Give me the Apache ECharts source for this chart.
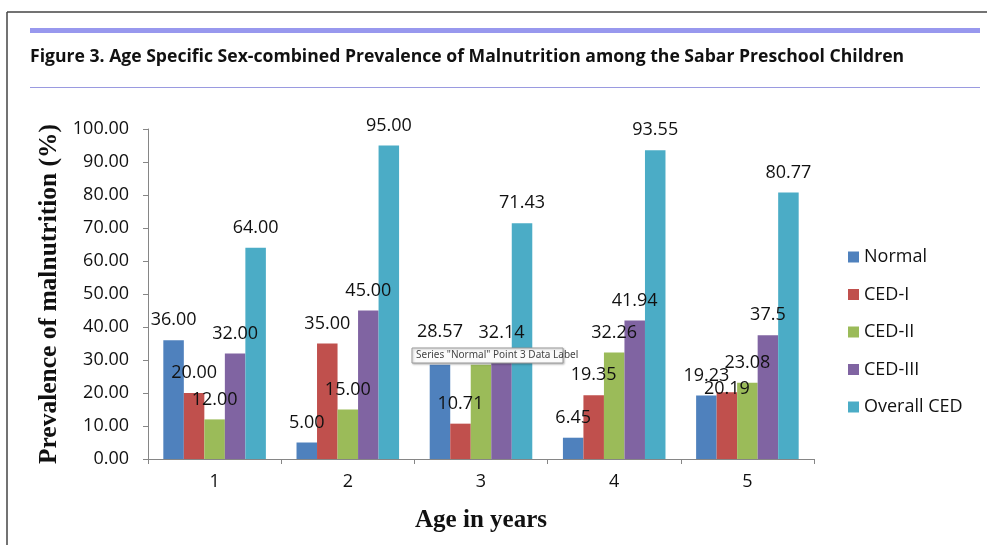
<!DOCTYPE html>
<html>
<head>
<meta charset="utf-8">
<script src="https://cdn.jsdelivr.net/npm/echarts@6/dist/echarts.min.js"></script>
<style>html,body{margin:0;padding:0;background:#fff;}#c{width:987px;height:545px;}</style>
</head>
<body>
<div id="c"></div>
<script>
const categories = ['1', '2', '3', '4', '5'];
const seriesNames = ['Normal', 'CED-I', 'CED-II', 'CED-III', 'Overall CED'];
const normal = ['36.00', '5.00', '28.57', '6.45', '19.23'];
const cedI = ['20.00', '35.00', '10.71', '19.35', '20.19'];
const cedII = ['12.00', '15.00', '28.57', '32.26', '23.08'];
const cedIII = ['32.00', '45.00', '32.14', '41.94', '37.5'];
const overallCED = ['64.00', '95.00', '71.43', '93.55', '80.77'];
const yTickMin = 0, yTickMax = 100, yTickStep = 10;

const colors = ['#4F81BD', '#C0504D', '#9BBB59', '#8064A2', '#4BACC6'];
const allValues = [normal, cedI, cedII, cedIII, overallCED];
// label nudges (Excel-style overlap adjustments), keyed "series:index"
const labelNudge = {'0:2': [0, -13], '2:2': [0, 13], '1:4': [0, 17]};
const labelFont = 'Open Sans';

const chart = echarts.init(document.getElementById('c'), null, {renderer: 'canvas'});
const series = seriesNames.map((name, si) => ({
  name: name,
  type: 'bar',
  barGap: '0%',
  barCategoryGap: '23%',
  itemStyle: {color: colors[si]},
  data: allValues[si].map((v, i) => {
    const item = {value: v};
    const n = labelNudge[si + ':' + i];
    if (n) item.label = {offset: n};
    return item;
  }),
  label: {
    show: true,
    position: 'top',
    distance: 11,
    fontFamily: labelFont,
    fontSize: 18,
    color: '#111',
    formatter: p => allValues[si][p.dataIndex]
  },
  z: 2
}));

chart.setOption({
  animation: false,
  backgroundColor: '#fff',
  grid: {left: 148, top: 129, width: 666, height: 330, containLabel: false},
  legend: {
    orient: 'vertical',
    left: 848,
    top: 246,
    padding: 0,
    icon: 'rect',
    itemWidth: 11,
    itemHeight: 11,
    itemGap: 15.5,
    textStyle: {fontFamily: labelFont, fontSize: 18, color: '#111', lineHeight: 22, padding: [0, 0, 0, 0]},
    data: seriesNames
  },
  xAxis: {
    type: 'category',
    data: categories,
    name: 'Age in years',
    nameLocation: 'middle',
    nameGap: 49,
    nameTextStyle: {fontFamily: 'Liberation Serif', fontWeight: 'bold', fontSize: 25, color: '#111'},
    axisLine: {lineStyle: {color: '#868686', width: 1}},
    axisTick: {show: true, length: 5, lineStyle: {color: '#868686'}},
    axisLabel: {fontFamily: labelFont, fontSize: 18, color: '#111', margin: 14}
  },
  yAxis: {
    type: 'value',
    min: yTickMin,
    max: yTickMax,
    interval: yTickStep,
    name: 'Prevalence of malnutrition (%)',
    nameLocation: 'middle',
    nameGap: 84,
    nameTextStyle: {fontFamily: 'Liberation Serif', fontWeight: 'bold', fontSize: 25.5, color: '#111'},
    axisLine: {show: true, lineStyle: {color: '#868686', width: 1}},
    axisTick: {show: true, length: 5, lineStyle: {color: '#868686'}},
    splitLine: {show: false},
    axisLabel: {fontFamily: labelFont, fontSize: 18, color: '#111', margin: 19, formatter: v => v.toFixed(2)}
  },
  series: series,
  graphic: [
    {type: 'line', shape: {x1: 7, y1: 12, x2: 987, y2: 12}, style: {stroke: '#444', lineWidth: 1.5}, z: 10},
    {type: 'line', shape: {x1: 7, y1: 12, x2: 7, y2: 545}, style: {stroke: '#444', lineWidth: 1.5}, z: 10},
    {type: 'rect', shape: {x: 30, y: 28, width: 950, height: 5}, style: {fill: '#9898ee'}, z: 10},
    {type: 'line', shape: {x1: 30, y1: 87.5, x2: 980, y2: 87.5}, style: {stroke: '#9a9ae0', lineWidth: 1}, z: 10},
    {type: 'text', x: 30, y: 57, style: {text: 'Figure 3. Age Specific Sex-combined Prevalence of Malnutrition among the Sabar Preschool Children', font: 'bold 17.6px "Open Sans"', fill: '#111', verticalAlign: 'middle'}, z: 10},
    {type: 'rect', shape: {x: 412, y: 348, width: 151, height: 15}, style: {fill: '#fbfbfb', stroke: '#9a9a9a', lineWidth: 1, shadowBlur: 2, shadowColor: 'rgba(0,0,0,0.25)', shadowOffsetX: 1, shadowOffsetY: 1}, z: 100},
    {type: 'text', x: 416, y: 355.5, style: {text: 'Series "Normal" Point 3 Data Label', font: '10px "Noto Sans"', fill: '#444', verticalAlign: 'middle'}, z: 101}
  ]
});
</script>
</body>
</html>
